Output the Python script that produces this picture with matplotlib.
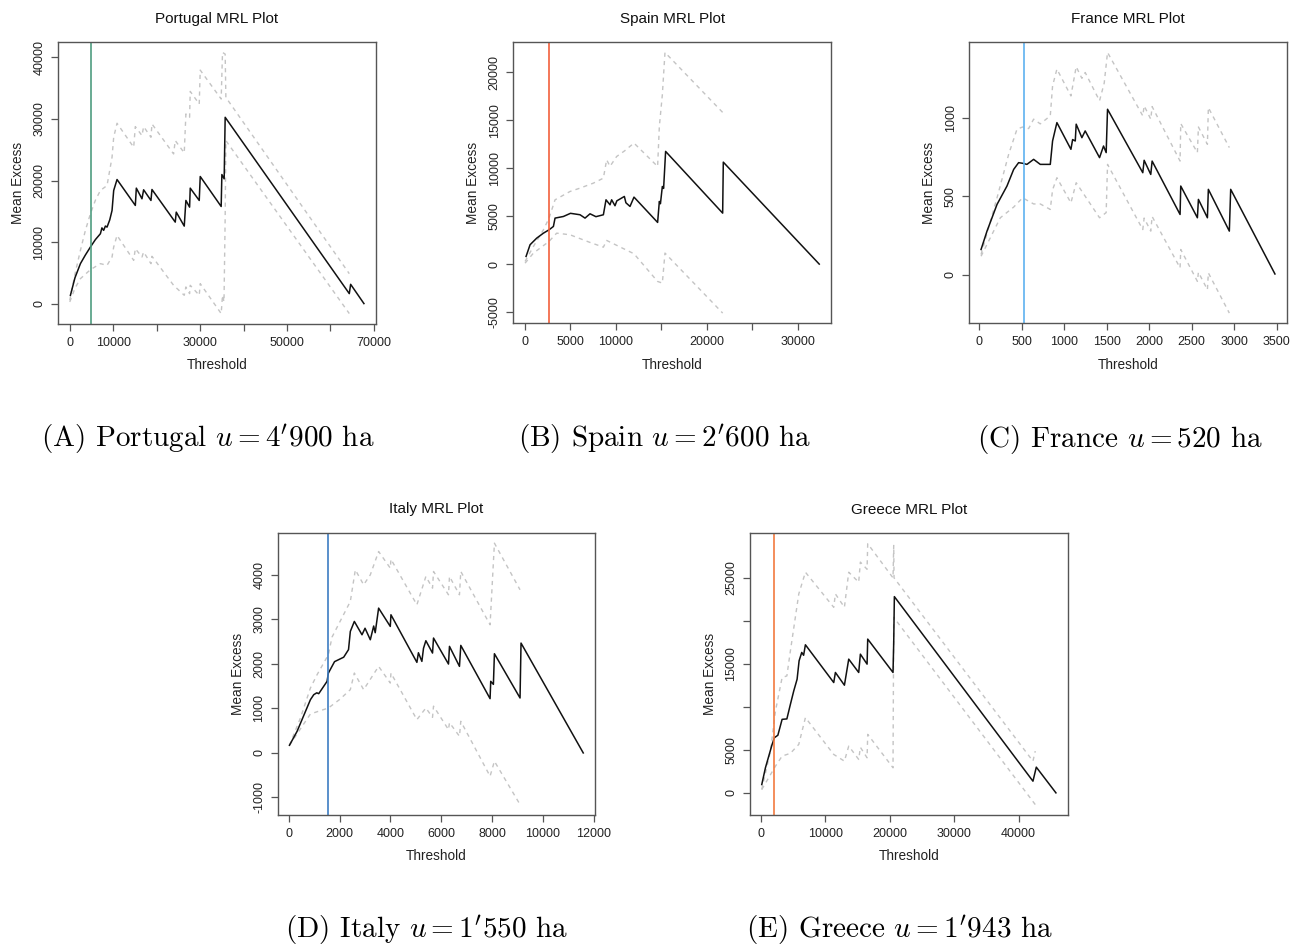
import matplotlib
matplotlib.use("Agg")
import matplotlib.pyplot as plt

# ---------------- data ----------------
# Portugal
pt_x = [150, 1200, 2450, 3600, 4750, 5900, 7050, 7400, 7800, 8200, 8580, 9200, 9730, 10110, 10880,
        15090, 15320, 16620, 17000, 18690, 18920, 24280, 24510, 26350, 26730, 27580,
        27730, 29800, 30030, 34850, 35010, 35540, 35770, 64340, 64650, 67710]
pt_mean = [1350, 4200, 6490, 7900, 9190, 10400, 11350, 12300, 11900, 12600, 12430, 13600, 15130, 18380, 20160,
           15950, 18760, 17030, 18490, 16760, 18540, 13240, 14860, 12590, 16760, 15670,
           18760, 16760, 20650, 15780, 20970, 20270, 30270, 1620, 3130, 0]
pt_up_x = [0, 1200, 2450, 3600, 4750, 5900, 7050, 8580, 9730, 10110, 10880, 14710, 15090,
           16620, 17000, 18690, 18920, 23900, 24280, 26350, 26730, 27580, 27730, 29800,
           30030, 34850, 35160, 35770, 35930, 64340]
pt_up = [540, 4800, 8650, 11900, 14590, 16800, 18380, 19190, 23780, 27030, 29300, 25400, 28760,
         27300, 28760, 27030, 29190, 24320, 26490, 24490, 30810, 30270, 34480, 32430,
         37940, 33240, 40810, 40540, 33510, 4860]
pt_lo_x = [0, 1200, 2450, 4750, 7050, 8580, 9730, 10110, 10880, 14710, 15090, 16620, 17000,
           18690, 18920, 23900, 26350, 26730, 27580, 27730, 29800, 30030, 34850, 35160,
           35500, 35770, 35930, 64340]
pt_lo = [270, 2500, 4050, 5510, 6490, 6220, 7570, 9190, 11080, 7030, 8920, 7570, 8380,
         6490, 7680, 2970, 1350, 2700, 1620, 2970, 1350, 3240, -1620, 1350,
         300, 14050, 26490, -1620]

# Spain
es_x = [110, 550, 1280, 2020, 2640, 3120, 3300, 4220, 5000, 6050, 6600, 7150, 7800, 8620,
        8910, 9350, 9530, 9900, 10100, 10930, 11100, 11550, 11990, 14590, 14780, 14900,
        15110, 15250, 15470, 21750, 21820, 32380]
es_mean = [800, 2020, 2710, 3230, 3580, 3930, 4800, 4970, 5300, 5150, 4800, 5250, 4950, 5150,
           6710, 6190, 6710, 6090, 6600, 7060, 6400, 6020, 6990, 4350, 6540, 6300,
           8100, 7900, 11760, 5320, 10640, 0]
es_up_x = [0, 920, 2020, 2640, 3300, 4950, 6050, 7520, 8620, 8980, 9350, 10080, 10930,
           11990, 14590, 14780, 15110, 15400, 21820]
es_up = [280, 1840, 3580, 4800, 6710, 7580, 7930, 8450, 8970, 10890, 10200, 11230, 11800,
         12630, 10190, 14360, 17670, 22090, 15760]
es_lo_x = [0, 920, 2640, 3480, 4950, 7150, 8620, 8980, 11990, 14590, 15110, 15400, 21750]
es_lo = [100, 1150, 2370, 3230, 3060, 2260, 1770, 2470, 1080, -1810, -1980, 1150, -5110]

# France
fr_x = [20, 90, 208, 325, 404, 462, 509, 560, 639, 717, 835, 862, 913, 1078, 1098, 1129,
        1140, 1207, 1246, 1415, 1462, 1493, 1509, 1924, 1940, 2018, 2034, 2363, 2371,
        2567, 2579, 2685, 2696, 2943, 2959, 3480]
fr_mean = [160, 277, 447, 564, 670, 713, 709, 702, 734, 702, 702, 851, 968, 798, 860, 851,
           958, 872, 915, 745, 819, 777, 1053, 649, 728, 638, 723, 383, 564,
           362, 479, 362, 543, 277, 543, 4]
fr_up_x = [20, 208, 345, 443, 509, 580, 639, 717, 835, 862, 913, 1078, 1140, 1207, 1246,
           1415, 1470, 1509, 1924, 1940, 2018, 2034, 2363, 2371, 2567, 2579, 2685, 2696, 2943]
fr_up = [128, 489, 766, 926, 940, 930, 990, 960, 1011, 1202, 1309, 1138, 1324, 1250, 1287,
         1107, 1220, 1415, 1011, 1075, 990, 1070, 723, 962, 777, 940, 830, 1064, 809]
fr_lo_x = [20, 247, 404, 509, 639, 717, 835, 862, 913, 1078, 1140, 1415, 1493, 1509, 1924,
           1940, 2018, 2034, 2363, 2371, 2567, 2579, 2685, 2696, 2943]
fr_lo = [117, 362, 430, 489, 450, 450, 415, 540, 617, 457, 585, 362, 395, 702, 287,
         360, 277, 370, 43, 160, -43, 15, -96, 11, -245]

# Italy
it_x = [26, 327, 851, 982, 1100, 1178, 1505, 1558, 1800, 2160, 2350, 2421, 2579, 2880,
        3000, 3207, 3340, 3400, 3534, 3993, 4019, 5040, 5100, 5236, 5300, 5393, 5655,
        5694, 6283, 6322, 6715, 6767, 7919, 7945, 8050, 8090, 9098, 9137, 11585]
it_mean = [172, 486, 1196, 1308, 1350, 1331, 1607, 1794, 2050, 2150, 2320, 2729, 2953, 2654,
           2800, 2542, 2850, 2700, 3252, 2841, 3103, 2034, 2250, 2056, 2350, 2520, 2243,
           2580, 1996, 2393, 1944, 2415, 1219, 1608, 1540, 2228, 1234, 2467, 0]
it_up_x = [26, 458, 851, 1113, 1558, 1700, 2421, 2618, 2945, 3207, 3534, 3993, 4019, 5040,
           5393, 5655, 5694, 6283, 6322, 6715, 6767, 7919, 8090, 9098]
it_up = [172, 785, 1458, 1757, 2206, 2600, 3402, 4112, 3776, 4000, 4524, 4150, 4350, 3327,
         3963, 3701, 4075, 3552, 3963, 3552, 4075, 2879, 4711, 3664]
it_lo_x = [26, 851, 1244, 1558, 2000, 2421, 2579, 2945, 3534, 3993, 4019, 5040, 5393, 5655,
           5694, 6283, 6322, 6715, 6767, 7919, 8090, 9098]
it_lo = [172, 875, 950, 1009, 1200, 1421, 1794, 1421, 1944, 1570, 1794, 748, 1009, 800,
         1050, 523, 680, 374, 710, -523, -187, -1159]

# Greece
gr_x = [100, 670, 1710, 2070, 2600, 3260, 4000, 4550, 5070, 5590, 5900, 6310, 6600, 6880,
        11280, 11540, 12940, 13610, 15160, 15420, 16460, 16560, 20490, 20600, 20700,
        42230, 42750, 45800]
gr_mean = [970, 2920, 5640, 6420, 6700, 8550, 8600, 10300, 11860, 13220, 15360, 16330, 16000,
           17220, 12830, 14000, 12520, 15550, 14000, 16130, 14970, 17880, 14000, 17500, 22820,
           1360, 2990, 0]
gr_up_x = [100, 1450, 2230, 3260, 4000, 4550, 5850, 6880, 11280, 11540, 12940, 13610, 15160,
           15420, 16460, 16560, 20490, 20600, 20650, 42230, 42590]
gr_up = [390, 4860, 9530, 13410, 13600, 16520, 23130, 25660, 21580, 23130, 21580, 25660, 24500,
         26830, 26000, 28970, 25000, 28770, 25000, 3690, 4860]
gr_lo_x = [100, 2230, 3260, 4550, 5850, 6880, 11280, 12940, 13610, 15160, 15420, 16460,
           16560, 20490, 20600, 42590]
gr_lo = [390, 3110, 4280, 4600, 5640, 8750, 4470, 3690, 5440, 3890, 5300, 4080,
         6800, 2920, 20410, -1360]

countries = ["Portugal", "Spain", "France", "Italy", "Greece"]
thresholds = [4900, 2600, 520, 1550, 1943]
threshold_labels = ["4'900", "2'600", "520", "1'550", "1'943"]
letters = ["A", "B", "C", "D", "E"]

pt_xticks = [0, 10000, 20000, 30000, 40000, 50000, 60000, 70000]
pt_xticklabels = ["0", "10000", "", "30000", "", "50000", "", "70000"]
pt_yticks = [0, 10000, 20000, 30000, 40000]
es_xticks = [0, 5000, 10000, 15000, 20000, 25000, 30000]
es_xticklabels = ["0", "5000", "10000", "", "20000", "", "30000"]
es_yticks = [-5000, 0, 5000, 10000, 15000, 20000]
fr_xticks = [0, 500, 1000, 1500, 2000, 2500, 3000, 3500]
fr_yticks = [0, 500, 1000]
it_xticks = [0, 2000, 4000, 6000, 8000, 10000, 12000]
it_yticks = [-1000, 0, 1000, 2000, 3000, 4000]
gr_xticks = [0, 10000, 20000, 30000, 40000]
gr_yticks = [0, 5000, 10000, 15000, 20000, 25000]
gr_yticklabels = ["0", "5000", "", "15000", "", "25000"]

vline_colors = ["#4f9d80", "#f2603c", "#5db2f0", "#3d7dc2", "#f27a40"]

# ---------------- layout ----------------
W, H = 1295, 947
plt.rcParams["mathtext.fontset"] = "cm"
plt.rcParams["axes.unicode_minus"] = False
fig = plt.figure(figsize=(W / 100, H / 100), dpi=100)

boxes = [  # left, top, right, bottom in pixels
    (58, 42, 375.7, 324),
    (513.3, 42, 831, 323.5),
    (969.3, 42, 1286.7, 323.5),
    (277.7, 532.7, 595, 815),
    (750, 533.3, 1067.7, 815),
]
caption_pos = [(208, 439), (664, 439), (1120, 439), (427, 930), (899, 930)]

panels = [
    (pt_x, pt_mean, pt_up_x, pt_up, pt_lo_x, pt_lo, pt_xticks, pt_xticklabels, pt_yticks, None),
    (es_x, es_mean, es_up_x, es_up, es_lo_x, es_lo, es_xticks, es_xticklabels, es_yticks, None),
    (fr_x, fr_mean, fr_up_x, fr_up, fr_lo_x, fr_lo, fr_xticks, None, fr_yticks, None),
    (it_x, it_mean, it_up_x, it_up, it_lo_x, it_lo, it_xticks, None, it_yticks, None),
    (gr_x, gr_mean, gr_up_x, gr_up, gr_lo_x, gr_lo, gr_xticks, None, gr_yticks, gr_yticklabels),
]

sans = ["Liberation Sans", "DejaVu Sans"]
spine_col = "#555555"
for i, (bx, p) in enumerate(zip(boxes, panels)):
    l, t, r, b = bx
    ax = fig.add_axes([l / W, 1 - b / H, (r - l) / W, (b - t) / H])
    x, m, ux, u, lx, lo, xt, xtl, yt, ytl = p
    ax.plot(ux, u, color="#c4c4c4", lw=1.0, ls=(0, (3, 3)))
    ax.plot(lx, lo, color="#c4c4c4", lw=1.0, ls=(0, (3, 3)))
    ax.plot(x, m, color="#111111", lw=1.1)
    ax.axvline(thresholds[i], color=vline_colors[i], lw=1.2)
    ax.margins(x=0.04, y=0.04)
    ax.set_xticks(xt)
    if xtl is not None:
        ax.set_xticklabels(xtl)
    ax.set_yticks(yt)
    if ytl is not None:
        ax.set_yticklabels(ytl)
    for lab in ax.get_yticklabels():
        lab.set_rotation(90)
        lab.set_va("center")
    ax.tick_params(direction="out", length=5, width=0.9, color=spine_col,
                   labelsize=9.0, labelcolor="#222222", pad=4)
    for lab in ax.get_xticklabels() + ax.get_yticklabels():
        lab.set_fontfamily(sans)
    for s in ax.spines.values():
        s.set_color(spine_col)
        s.set_linewidth(1.0)
    ax.set_title(f"{countries[i]} MRL Plot", fontsize=11, family=sans, pad=14, color="#111111")
    ax.set_xlabel("Threshold", fontsize=9.8, family=sans, labelpad=7, color="#222222")
    ax.set_ylabel("Mean Excess", fontsize=9.8, family=sans, labelpad=6, color="#222222")

    cx, cy = caption_pos[i]
    fig.text(cx / W, 1 - cy / H,
             f"({letters[i]}) {countries[i]} $u = {threshold_labels[i]}$ ha",
             ha="center", va="center", fontsize=21, family="cmr10")

fig.savefig("out.png", dpi=100)
